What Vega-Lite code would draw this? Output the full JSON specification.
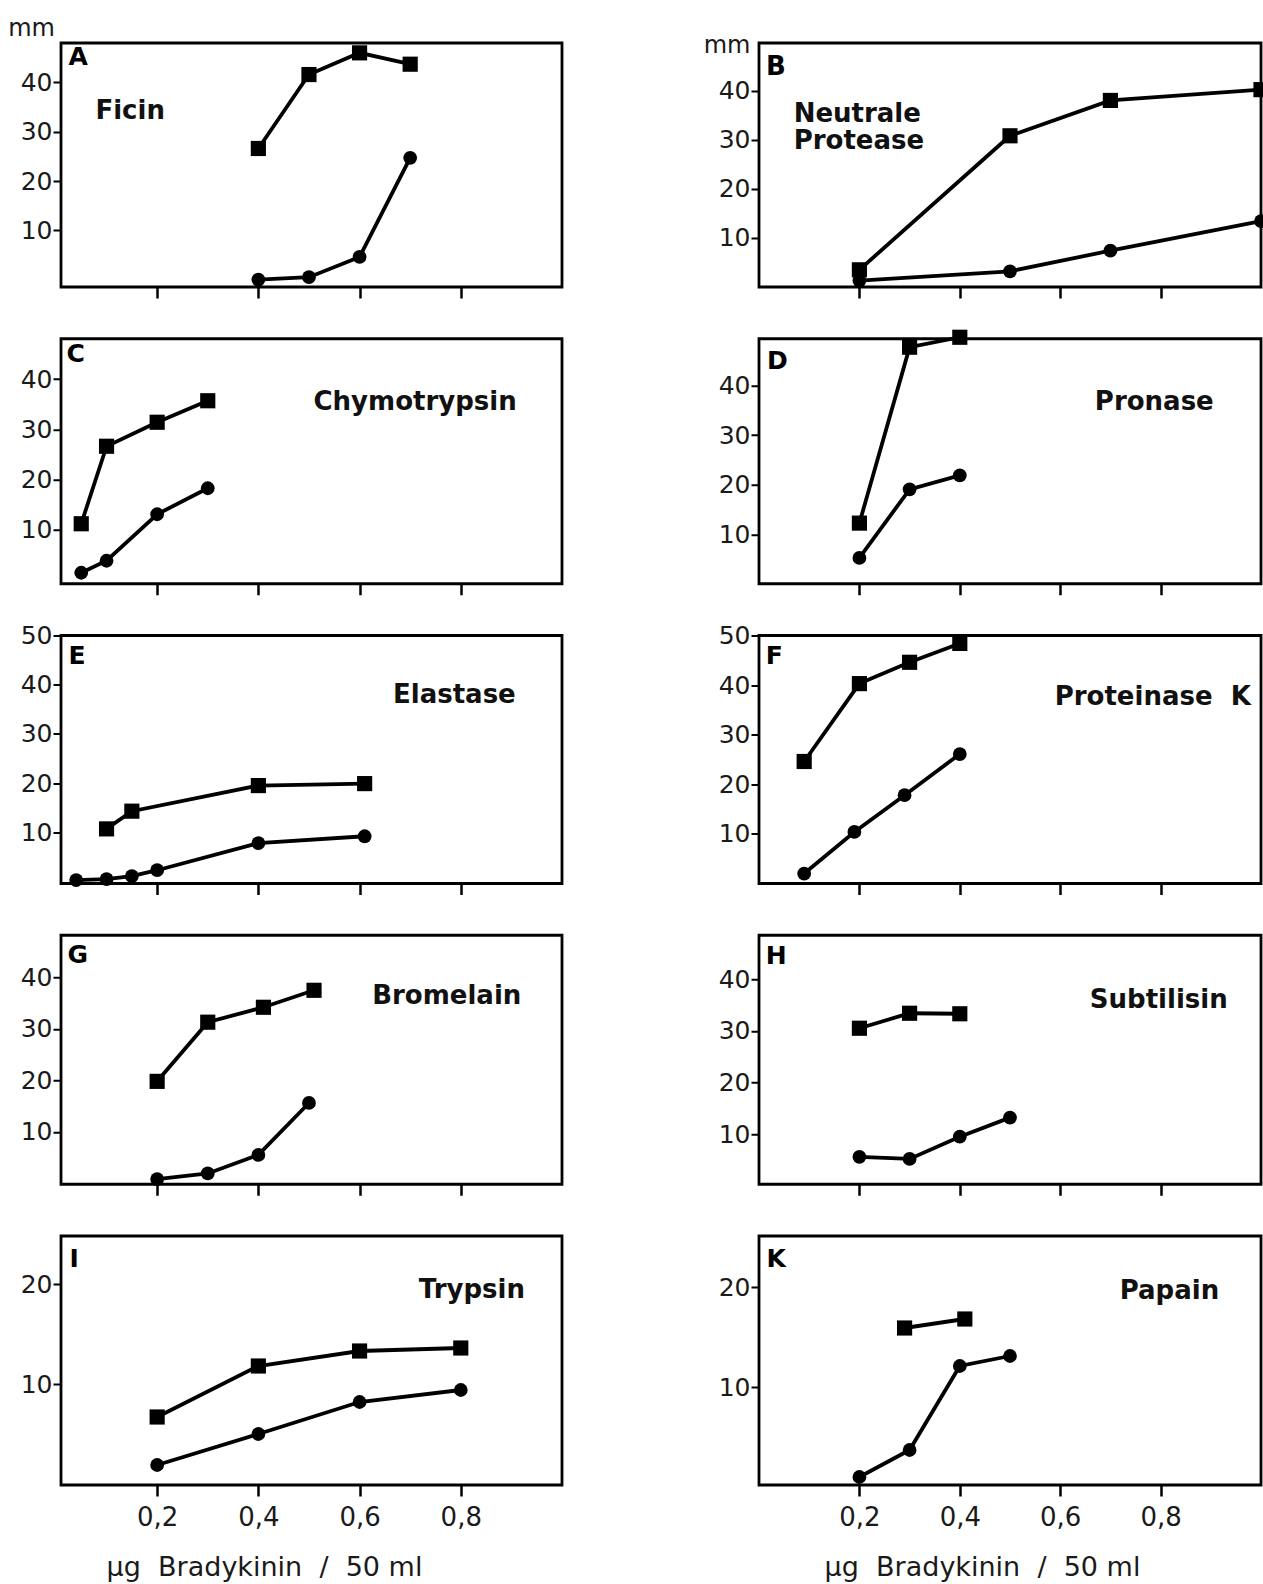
{
  "$schema": "https://vega.github.io/schema/vega-lite/v6.json",
  "background": "white",
  "padding": {"left": 6, "top": 14, "right": 2, "bottom": 2},
  "data": {"values": [
    {"panel":"A","series":"square","dose":0.4,"mm":26.6},{"panel":"A","series":"square","dose":0.5,"mm":41.6},{"panel":"A","series":"square","dose":0.6,"mm":46.0},{"panel":"A","series":"square","dose":0.7,"mm":43.7},
    {"panel":"A","series":"circle","dose":0.4,"mm":0.0},{"panel":"A","series":"circle","dose":0.5,"mm":0.5},{"panel":"A","series":"circle","dose":0.6,"mm":4.6},{"panel":"A","series":"circle","dose":0.7,"mm":24.7},
    {"panel":"B","series":"square","dose":0.2,"mm":3.5},{"panel":"B","series":"square","dose":0.5,"mm":30.8},{"panel":"B","series":"square","dose":0.7,"mm":38.0},{"panel":"B","series":"square","dose":1.0,"mm":40.2},
    {"panel":"B","series":"circle","dose":0.2,"mm":1.3},{"panel":"B","series":"circle","dose":0.5,"mm":3.2},{"panel":"B","series":"circle","dose":0.7,"mm":7.4},{"panel":"B","series":"circle","dose":1.0,"mm":13.4},
    {"panel":"C","series":"square","dose":0.05,"mm":11.1},{"panel":"C","series":"square","dose":0.1,"mm":26.6},{"panel":"C","series":"square","dose":0.2,"mm":31.4},{"panel":"C","series":"square","dose":0.3,"mm":35.7},
    {"panel":"C","series":"circle","dose":0.05,"mm":1.3},{"panel":"C","series":"circle","dose":0.1,"mm":3.7},{"panel":"C","series":"circle","dose":0.2,"mm":13.0},{"panel":"C","series":"circle","dose":0.3,"mm":18.2},
    {"panel":"D","series":"square","dose":0.2,"mm":12.3},{"panel":"D","series":"square","dose":0.3,"mm":47.7},{"panel":"D","series":"square","dose":0.4,"mm":49.7},
    {"panel":"D","series":"circle","dose":0.2,"mm":5.3},{"panel":"D","series":"circle","dose":0.3,"mm":19.1},{"panel":"D","series":"circle","dose":0.4,"mm":21.9},
    {"panel":"E","series":"square","dose":0.1,"mm":10.7},{"panel":"E","series":"square","dose":0.15,"mm":14.3},{"panel":"E","series":"square","dose":0.4,"mm":19.5},{"panel":"E","series":"square","dose":0.61,"mm":19.9},
    {"panel":"E","series":"circle","dose":0.04,"mm":0.3},{"panel":"E","series":"circle","dose":0.1,"mm":0.5},{"panel":"E","series":"circle","dose":0.15,"mm":1.1},{"panel":"E","series":"circle","dose":0.2,"mm":2.3},{"panel":"E","series":"circle","dose":0.4,"mm":7.8},{"panel":"E","series":"circle","dose":0.61,"mm":9.2},
    {"panel":"F","series":"square","dose":0.09,"mm":24.6},{"panel":"F","series":"square","dose":0.2,"mm":40.3},{"panel":"F","series":"square","dose":0.3,"mm":44.6},{"panel":"F","series":"square","dose":0.4,"mm":48.4},
    {"panel":"F","series":"circle","dose":0.09,"mm":2.0},{"panel":"F","series":"circle","dose":0.19,"mm":10.4},{"panel":"F","series":"circle","dose":0.29,"mm":17.8},{"panel":"F","series":"circle","dose":0.4,"mm":26.1},
    {"panel":"G","series":"square","dose":0.2,"mm":19.8},{"panel":"G","series":"square","dose":0.3,"mm":31.3},{"panel":"G","series":"square","dose":0.41,"mm":34.2},{"panel":"G","series":"square","dose":0.51,"mm":37.5},
    {"panel":"G","series":"circle","dose":0.2,"mm":0.8},{"panel":"G","series":"circle","dose":0.3,"mm":1.9},{"panel":"G","series":"circle","dose":0.4,"mm":5.5},{"panel":"G","series":"circle","dose":0.5,"mm":15.6},
    {"panel":"H","series":"square","dose":0.2,"mm":30.5},{"panel":"H","series":"square","dose":0.3,"mm":33.4},{"panel":"H","series":"square","dose":0.4,"mm":33.3},
    {"panel":"H","series":"circle","dose":0.2,"mm":5.6},{"panel":"H","series":"circle","dose":0.3,"mm":5.2},{"panel":"H","series":"circle","dose":0.4,"mm":9.5},{"panel":"H","series":"circle","dose":0.5,"mm":13.2},
    {"panel":"I","series":"square","dose":0.2,"mm":6.7},{"panel":"I","series":"square","dose":0.4,"mm":11.8},{"panel":"I","series":"square","dose":0.6,"mm":13.3},{"panel":"I","series":"square","dose":0.8,"mm":13.6},
    {"panel":"I","series":"circle","dose":0.2,"mm":1.9},{"panel":"I","series":"circle","dose":0.4,"mm":5.0},{"panel":"I","series":"circle","dose":0.6,"mm":8.2},{"panel":"I","series":"circle","dose":0.8,"mm":9.4},
    {"panel":"K","series":"square","dose":0.29,"mm":15.9},{"panel":"K","series":"square","dose":0.41,"mm":16.8},
    {"panel":"K","series":"circle","dose":0.2,"mm":1.0},{"panel":"K","series":"circle","dose":0.3,"mm":3.7},{"panel":"K","series":"circle","dose":0.4,"mm":12.1},{"panel":"K","series":"circle","dose":0.5,"mm":13.1}
  ]},
  "columns": 2,
  "align": "each",
  "bounds": "flush",
  "spacing": {"row": 51.75, "column": 197},
  "concat": [
    {
      "width": 501, "height": 244,
      "layer": [
        {"transform": [{"filter": "datum.panel === 'A'"}], "mark": {"type": "line", "color": "black", "strokeWidth": 3.8},
         "encoding": {"x": {"field": "dose", "type": "quantitative", "scale": {"domain": [0.01, 1.0], "nice": false, "zero": false}, "axis": {"values": [0.2, 0.4, 0.6, 0.8], "labels": false, "title": null}},
                      "y": {"field": "mm", "type": "quantitative", "scale": {"domain": [-1.5, 48], "nice": false, "zero": false}, "axis": {"values": [10, 20, 30, 40], "title": "mm", "titleX": -6.6, "titleY": -8}},
                      "detail": {"field": "series"}}},
        {"transform": [{"filter": "datum.panel === 'A' && datum.series === 'square'"}], "mark": {"type": "square", "color": "black", "size": 230, "opacity": 1},
         "encoding": {"x": {"field": "dose", "type": "quantitative", "scale": {"domain": [0.01, 1.0], "nice": false, "zero": false}, "axis": {"values": [0.2, 0.4, 0.6, 0.8], "labels": false, "title": null}},
                      "y": {"field": "mm", "type": "quantitative", "scale": {"domain": [-1.5, 48], "nice": false, "zero": false}, "axis": {"values": [10, 20, 30, 40], "title": "mm", "titleX": -6.6, "titleY": -8}}}},
        {"transform": [{"filter": "datum.panel === 'A' && datum.series === 'circle'"}], "mark": {"type": "circle", "color": "black", "size": 190, "opacity": 1},
         "encoding": {"x": {"field": "dose", "type": "quantitative", "scale": {"domain": [0.01, 1.0], "nice": false, "zero": false}, "axis": {"values": [0.2, 0.4, 0.6, 0.8], "labels": false, "title": null}},
                      "y": {"field": "mm", "type": "quantitative", "scale": {"domain": [-1.5, 48], "nice": false, "zero": false}, "axis": {"values": [10, 20, 30, 40], "title": "mm", "titleX": -6.6, "titleY": -8}}}},
        {"data": {"values": [{"t": "A"}]}, "mark": {"type": "text", "fontWeight": "bold", "fontSize": 25, "align": "left", "baseline": "alphabetic", "color": "black"},
         "encoding": {"text": {"field": "t"},
                      "x": {"datum": 0.0246, "type": "quantitative", "scale": {"domain": [0.01, 1.0], "nice": false, "zero": false}, "axis": {"values": [0.2, 0.4, 0.6, 0.8], "labels": false, "title": null}},
                      "y": {"datum": 43.5, "type": "quantitative", "scale": {"domain": [-1.5, 48], "nice": false, "zero": false}, "axis": {"values": [10, 20, 30, 40], "title": "mm", "titleX": -6.6, "titleY": -8}}}},
        {"data": {"values": [{"t": "Ficin"}]}, "mark": {"type": "text", "fontWeight": "bold", "fontSize": 26, "align": "left", "baseline": "alphabetic", "color": "#111"},
         "encoding": {"text": {"field": "t"},
                      "x": {"datum": 0.078, "type": "quantitative", "scale": {"domain": [0.01, 1.0], "nice": false, "zero": false}, "axis": {"values": [0.2, 0.4, 0.6, 0.8], "labels": false, "title": null}},
                      "y": {"datum": 32.6, "type": "quantitative", "scale": {"domain": [-1.5, 48], "nice": false, "zero": false}, "axis": {"values": [10, 20, 30, 40], "title": "mm", "titleX": -6.6, "titleY": -8}}}}
      ]
    },
    {
      "width": 502, "height": 244,
      "layer": [
        {"transform": [{"filter": "datum.panel === 'B'"}], "mark": {"type": "line", "color": "black", "strokeWidth": 3.8},
         "encoding": {"x": {"field": "dose", "type": "quantitative", "scale": {"domain": [0, 1.0], "nice": false, "zero": false}, "axis": {"values": [0.2, 0.4, 0.6, 0.8], "labels": false, "title": null}},
                      "y": {"field": "mm", "type": "quantitative", "scale": {"domain": [0, 49.7], "nice": false, "zero": false}, "axis": {"values": [10, 20, 30, 40], "title": "mm", "titleX": -9, "titleY": 9}},
                      "detail": {"field": "series"}}},
        {"transform": [{"filter": "datum.panel === 'B' && datum.series === 'square'"}], "mark": {"type": "square", "color": "black", "size": 230, "opacity": 1},
         "encoding": {"x": {"field": "dose", "type": "quantitative", "scale": {"domain": [0, 1.0], "nice": false, "zero": false}, "axis": {"values": [0.2, 0.4, 0.6, 0.8], "labels": false, "title": null}},
                      "y": {"field": "mm", "type": "quantitative", "scale": {"domain": [0, 49.7], "nice": false, "zero": false}, "axis": {"values": [10, 20, 30, 40], "title": "mm", "titleX": -9, "titleY": 9}}}},
        {"transform": [{"filter": "datum.panel === 'B' && datum.series === 'circle'"}], "mark": {"type": "circle", "color": "black", "size": 190, "opacity": 1},
         "encoding": {"x": {"field": "dose", "type": "quantitative", "scale": {"domain": [0, 1.0], "nice": false, "zero": false}, "axis": {"values": [0.2, 0.4, 0.6, 0.8], "labels": false, "title": null}},
                      "y": {"field": "mm", "type": "quantitative", "scale": {"domain": [0, 49.7], "nice": false, "zero": false}, "axis": {"values": [10, 20, 30, 40], "title": "mm", "titleX": -9, "titleY": 9}}}},
        {"data": {"values": [{"t": "B"}]}, "mark": {"type": "text", "fontWeight": "bold", "fontSize": 26, "align": "left", "baseline": "alphabetic", "color": "black"},
         "encoding": {"text": {"field": "t"},
                      "x": {"datum": 0.0139, "type": "quantitative", "scale": {"domain": [0, 1.0], "nice": false, "zero": false}, "axis": {"values": [0.2, 0.4, 0.6, 0.8], "labels": false, "title": null}},
                      "y": {"datum": 43.2, "type": "quantitative", "scale": {"domain": [0, 49.7], "nice": false, "zero": false}, "axis": {"values": [10, 20, 30, 40], "title": "mm", "titleX": -9, "titleY": 9}}}},
        {"data": {"values": [{"t": "Neutrale"}]}, "mark": {"type": "text", "fontWeight": "bold", "fontSize": 26, "align": "left", "baseline": "alphabetic", "color": "#111"},
         "encoding": {"text": {"field": "t"},
                      "x": {"datum": 0.069, "type": "quantitative", "scale": {"domain": [0, 1.0], "nice": false, "zero": false}, "axis": {"values": [0.2, 0.4, 0.6, 0.8], "labels": false, "title": null}},
                      "y": {"datum": 33.6, "type": "quantitative", "scale": {"domain": [0, 49.7], "nice": false, "zero": false}, "axis": {"values": [10, 20, 30, 40], "title": "mm", "titleX": -9, "titleY": 9}}}},
        {"data": {"values": [{"t": "Protease"}]}, "mark": {"type": "text", "fontWeight": "bold", "fontSize": 26, "align": "left", "baseline": "alphabetic", "color": "#111"},
         "encoding": {"text": {"field": "t"},
                      "x": {"datum": 0.069, "type": "quantitative", "scale": {"domain": [0, 1.0], "nice": false, "zero": false}, "axis": {"values": [0.2, 0.4, 0.6, 0.8], "labels": false, "title": null}},
                      "y": {"datum": 28.1, "type": "quantitative", "scale": {"domain": [0, 49.7], "nice": false, "zero": false}, "axis": {"values": [10, 20, 30, 40], "title": "mm", "titleX": -9, "titleY": 9}}}}
      ]
    },
    {
      "width": 501, "height": 245,
      "layer": [
        {"transform": [{"filter": "datum.panel === 'C'"}], "mark": {"type": "line", "color": "black", "strokeWidth": 3.8},
         "encoding": {"x": {"field": "dose", "type": "quantitative", "scale": {"domain": [0.01, 1.0], "nice": false, "zero": false}, "axis": {"values": [0.2, 0.4, 0.6, 0.8], "labels": false, "title": null}},
                      "y": {"field": "mm", "type": "quantitative", "scale": {"domain": [-0.9, 48.1], "nice": false, "zero": false}, "axis": {"values": [10, 20, 30, 40], "title": null}},
                      "detail": {"field": "series"}}},
        {"transform": [{"filter": "datum.panel === 'C' && datum.series === 'square'"}], "mark": {"type": "square", "color": "black", "size": 230, "opacity": 1},
         "encoding": {"x": {"field": "dose", "type": "quantitative", "scale": {"domain": [0.01, 1.0], "nice": false, "zero": false}, "axis": {"values": [0.2, 0.4, 0.6, 0.8], "labels": false, "title": null}},
                      "y": {"field": "mm", "type": "quantitative", "scale": {"domain": [-0.9, 48.1], "nice": false, "zero": false}, "axis": {"values": [10, 20, 30, 40], "title": null}}}},
        {"transform": [{"filter": "datum.panel === 'C' && datum.series === 'circle'"}], "mark": {"type": "circle", "color": "black", "size": 190, "opacity": 1},
         "encoding": {"x": {"field": "dose", "type": "quantitative", "scale": {"domain": [0.01, 1.0], "nice": false, "zero": false}, "axis": {"values": [0.2, 0.4, 0.6, 0.8], "labels": false, "title": null}},
                      "y": {"field": "mm", "type": "quantitative", "scale": {"domain": [-0.9, 48.1], "nice": false, "zero": false}, "axis": {"values": [10, 20, 30, 40], "title": null}}}},
        {"data": {"values": [{"t": "C"}]}, "mark": {"type": "text", "fontWeight": "bold", "fontSize": 25, "align": "left", "baseline": "alphabetic", "color": "black"},
         "encoding": {"text": {"field": "t"},
                      "x": {"datum": 0.0207, "type": "quantitative", "scale": {"domain": [0.01, 1.0], "nice": false, "zero": false}, "axis": {"values": [0.2, 0.4, 0.6, 0.8], "labels": false, "title": null}},
                      "y": {"datum": 43.4, "type": "quantitative", "scale": {"domain": [-0.9, 48.1], "nice": false, "zero": false}, "axis": {"values": [10, 20, 30, 40], "title": null}}}},
        {"data": {"values": [{"t": "Chymotrypsin"}]}, "mark": {"type": "text", "fontWeight": "bold", "fontSize": 26, "align": "left", "baseline": "alphabetic", "color": "#111"},
         "encoding": {"text": {"field": "t"},
                      "x": {"datum": 0.509, "type": "quantitative", "scale": {"domain": [0.01, 1.0], "nice": false, "zero": false}, "axis": {"values": [0.2, 0.4, 0.6, 0.8], "labels": false, "title": null}},
                      "y": {"datum": 33.9, "type": "quantitative", "scale": {"domain": [-0.9, 48.1], "nice": false, "zero": false}, "axis": {"values": [10, 20, 30, 40], "title": null}}}}
      ]
    },
    {
      "width": 502, "height": 245,
      "layer": [
        {"transform": [{"filter": "datum.panel === 'D'"}], "mark": {"type": "line", "color": "black", "strokeWidth": 3.8},
         "encoding": {"x": {"field": "dose", "type": "quantitative", "scale": {"domain": [0, 1.0], "nice": false, "zero": false}, "axis": {"values": [0.2, 0.4, 0.6, 0.8], "labels": false, "title": null}},
                      "y": {"field": "mm", "type": "quantitative", "scale": {"domain": [0.1, 49.4], "nice": false, "zero": false}, "axis": {"values": [10, 20, 30, 40], "title": null}},
                      "detail": {"field": "series"}}},
        {"transform": [{"filter": "datum.panel === 'D' && datum.series === 'square'"}], "mark": {"type": "square", "color": "black", "size": 230, "opacity": 1},
         "encoding": {"x": {"field": "dose", "type": "quantitative", "scale": {"domain": [0, 1.0], "nice": false, "zero": false}, "axis": {"values": [0.2, 0.4, 0.6, 0.8], "labels": false, "title": null}},
                      "y": {"field": "mm", "type": "quantitative", "scale": {"domain": [0.1, 49.4], "nice": false, "zero": false}, "axis": {"values": [10, 20, 30, 40], "title": null}}}},
        {"transform": [{"filter": "datum.panel === 'D' && datum.series === 'circle'"}], "mark": {"type": "circle", "color": "black", "size": 190, "opacity": 1},
         "encoding": {"x": {"field": "dose", "type": "quantitative", "scale": {"domain": [0, 1.0], "nice": false, "zero": false}, "axis": {"values": [0.2, 0.4, 0.6, 0.8], "labels": false, "title": null}},
                      "y": {"field": "mm", "type": "quantitative", "scale": {"domain": [0.1, 49.4], "nice": false, "zero": false}, "axis": {"values": [10, 20, 30, 40], "title": null}}}},
        {"data": {"values": [{"t": "D"}]}, "mark": {"type": "text", "fontWeight": "bold", "fontSize": 25, "align": "left", "baseline": "alphabetic", "color": "black"},
         "encoding": {"text": {"field": "t"},
                      "x": {"datum": 0.0159, "type": "quantitative", "scale": {"domain": [0, 1.0], "nice": false, "zero": false}, "axis": {"values": [0.2, 0.4, 0.6, 0.8], "labels": false, "title": null}},
                      "y": {"datum": 43.3, "type": "quantitative", "scale": {"domain": [0.1, 49.4], "nice": false, "zero": false}, "axis": {"values": [10, 20, 30, 40], "title": null}}}},
        {"data": {"values": [{"t": "Pronase"}]}, "mark": {"type": "text", "fontWeight": "bold", "fontSize": 26, "align": "left", "baseline": "alphabetic", "color": "#111"},
         "encoding": {"text": {"field": "t"},
                      "x": {"datum": 0.669, "type": "quantitative", "scale": {"domain": [0, 1.0], "nice": false, "zero": false}, "axis": {"values": [0.2, 0.4, 0.6, 0.8], "labels": false, "title": null}},
                      "y": {"datum": 35.05, "type": "quantitative", "scale": {"domain": [0.1, 49.4], "nice": false, "zero": false}, "axis": {"values": [10, 20, 30, 40], "title": null}}}}
      ]
    },
    {
      "width": 501, "height": 248,
      "layer": [
        {"transform": [{"filter": "datum.panel === 'E'"}], "mark": {"type": "line", "color": "black", "strokeWidth": 3.8},
         "encoding": {"x": {"field": "dose", "type": "quantitative", "scale": {"domain": [0.01, 1.0], "nice": false, "zero": false}, "axis": {"values": [0.2, 0.4, 0.6, 0.8], "labels": false, "title": null}},
                      "y": {"field": "mm", "type": "quantitative", "scale": {"domain": [-0.4, 50], "nice": false, "zero": false}, "axis": {"values": [10, 20, 30, 40, 50], "title": null}},
                      "detail": {"field": "series"}}},
        {"transform": [{"filter": "datum.panel === 'E' && datum.series === 'square'"}], "mark": {"type": "square", "color": "black", "size": 230, "opacity": 1},
         "encoding": {"x": {"field": "dose", "type": "quantitative", "scale": {"domain": [0.01, 1.0], "nice": false, "zero": false}, "axis": {"values": [0.2, 0.4, 0.6, 0.8], "labels": false, "title": null}},
                      "y": {"field": "mm", "type": "quantitative", "scale": {"domain": [-0.4, 50], "nice": false, "zero": false}, "axis": {"values": [10, 20, 30, 40, 50], "title": null}}}},
        {"transform": [{"filter": "datum.panel === 'E' && datum.series === 'circle'"}], "mark": {"type": "circle", "color": "black", "size": 190, "opacity": 1},
         "encoding": {"x": {"field": "dose", "type": "quantitative", "scale": {"domain": [0.01, 1.0], "nice": false, "zero": false}, "axis": {"values": [0.2, 0.4, 0.6, 0.8], "labels": false, "title": null}},
                      "y": {"field": "mm", "type": "quantitative", "scale": {"domain": [-0.4, 50], "nice": false, "zero": false}, "axis": {"values": [10, 20, 30, 40, 50], "title": null}}}},
        {"data": {"values": [{"t": "E"}]}, "mark": {"type": "text", "fontWeight": "bold", "fontSize": 25, "align": "left", "baseline": "alphabetic", "color": "black"},
         "encoding": {"text": {"field": "t"},
                      "x": {"datum": 0.0246, "type": "quantitative", "scale": {"domain": [0.01, 1.0], "nice": false, "zero": false}, "axis": {"values": [0.2, 0.4, 0.6, 0.8], "labels": false, "title": null}},
                      "y": {"datum": 44.3, "type": "quantitative", "scale": {"domain": [-0.4, 50], "nice": false, "zero": false}, "axis": {"values": [10, 20, 30, 40, 50], "title": null}}}},
        {"data": {"values": [{"t": "Elastase"}]}, "mark": {"type": "text", "fontWeight": "bold", "fontSize": 26, "align": "left", "baseline": "alphabetic", "color": "#111"},
         "encoding": {"text": {"field": "t"},
                      "x": {"datum": 0.666, "type": "quantitative", "scale": {"domain": [0.01, 1.0], "nice": false, "zero": false}, "axis": {"values": [0.2, 0.4, 0.6, 0.8], "labels": false, "title": null}},
                      "y": {"datum": 36.3, "type": "quantitative", "scale": {"domain": [-0.4, 50], "nice": false, "zero": false}, "axis": {"values": [10, 20, 30, 40, 50], "title": null}}}}
      ]
    },
    {
      "width": 502, "height": 248,
      "layer": [
        {"transform": [{"filter": "datum.panel === 'F'"}], "mark": {"type": "line", "color": "black", "strokeWidth": 3.8},
         "encoding": {"x": {"field": "dose", "type": "quantitative", "scale": {"domain": [0, 1.0], "nice": false, "zero": false}, "axis": {"values": [0.2, 0.4, 0.6, 0.8], "labels": false, "title": null}},
                      "y": {"field": "mm", "type": "quantitative", "scale": {"domain": [0, 50], "nice": false, "zero": false}, "axis": {"values": [10, 20, 30, 40, 50], "title": null}},
                      "detail": {"field": "series"}}},
        {"transform": [{"filter": "datum.panel === 'F' && datum.series === 'square'"}], "mark": {"type": "square", "color": "black", "size": 230, "opacity": 1},
         "encoding": {"x": {"field": "dose", "type": "quantitative", "scale": {"domain": [0, 1.0], "nice": false, "zero": false}, "axis": {"values": [0.2, 0.4, 0.6, 0.8], "labels": false, "title": null}},
                      "y": {"field": "mm", "type": "quantitative", "scale": {"domain": [0, 50], "nice": false, "zero": false}, "axis": {"values": [10, 20, 30, 40, 50], "title": null}}}},
        {"transform": [{"filter": "datum.panel === 'F' && datum.series === 'circle'"}], "mark": {"type": "circle", "color": "black", "size": 190, "opacity": 1},
         "encoding": {"x": {"field": "dose", "type": "quantitative", "scale": {"domain": [0, 1.0], "nice": false, "zero": false}, "axis": {"values": [0.2, 0.4, 0.6, 0.8], "labels": false, "title": null}},
                      "y": {"field": "mm", "type": "quantitative", "scale": {"domain": [0, 50], "nice": false, "zero": false}, "axis": {"values": [10, 20, 30, 40, 50], "title": null}}}},
        {"data": {"values": [{"t": "F"}]}, "mark": {"type": "text", "fontWeight": "bold", "fontSize": 25, "align": "left", "baseline": "alphabetic", "color": "black"},
         "encoding": {"text": {"field": "t"},
                      "x": {"datum": 0.0135, "type": "quantitative", "scale": {"domain": [0, 1.0], "nice": false, "zero": false}, "axis": {"values": [0.2, 0.4, 0.6, 0.8], "labels": false, "title": null}},
                      "y": {"datum": 44.2, "type": "quantitative", "scale": {"domain": [0, 50], "nice": false, "zero": false}, "axis": {"values": [10, 20, 30, 40, 50], "title": null}}}},
        {"data": {"values": [{"t": "Proteinase\u00a0\u00a0K"}]}, "mark": {"type": "text", "fontWeight": "bold", "fontSize": 26, "align": "left", "baseline": "alphabetic", "color": "#111"},
         "encoding": {"text": {"field": "t"},
                      "x": {"datum": 0.589, "type": "quantitative", "scale": {"domain": [0, 1.0], "nice": false, "zero": false}, "axis": {"values": [0.2, 0.4, 0.6, 0.8], "labels": false, "title": null}},
                      "y": {"datum": 35.95, "type": "quantitative", "scale": {"domain": [0, 50], "nice": false, "zero": false}, "axis": {"values": [10, 20, 30, 40, 50], "title": null}}}}
      ]
    },
    {
      "width": 501, "height": 249,
      "layer": [
        {"transform": [{"filter": "datum.panel === 'G'"}], "mark": {"type": "line", "color": "black", "strokeWidth": 3.8},
         "encoding": {"x": {"field": "dose", "type": "quantitative", "scale": {"domain": [0.01, 1.0], "nice": false, "zero": false}, "axis": {"values": [0.2, 0.4, 0.6, 0.8], "labels": false, "title": null}},
                      "y": {"field": "mm", "type": "quantitative", "scale": {"domain": [-0.2, 48.2], "nice": false, "zero": false}, "axis": {"values": [10, 20, 30, 40], "title": null}},
                      "detail": {"field": "series"}}},
        {"transform": [{"filter": "datum.panel === 'G' && datum.series === 'square'"}], "mark": {"type": "square", "color": "black", "size": 230, "opacity": 1},
         "encoding": {"x": {"field": "dose", "type": "quantitative", "scale": {"domain": [0.01, 1.0], "nice": false, "zero": false}, "axis": {"values": [0.2, 0.4, 0.6, 0.8], "labels": false, "title": null}},
                      "y": {"field": "mm", "type": "quantitative", "scale": {"domain": [-0.2, 48.2], "nice": false, "zero": false}, "axis": {"values": [10, 20, 30, 40], "title": null}}}},
        {"transform": [{"filter": "datum.panel === 'G' && datum.series === 'circle'"}], "mark": {"type": "circle", "color": "black", "size": 190, "opacity": 1},
         "encoding": {"x": {"field": "dose", "type": "quantitative", "scale": {"domain": [0.01, 1.0], "nice": false, "zero": false}, "axis": {"values": [0.2, 0.4, 0.6, 0.8], "labels": false, "title": null}},
                      "y": {"field": "mm", "type": "quantitative", "scale": {"domain": [-0.2, 48.2], "nice": false, "zero": false}, "axis": {"values": [10, 20, 30, 40], "title": null}}}},
        {"data": {"values": [{"t": "G"}]}, "mark": {"type": "text", "fontWeight": "bold", "fontSize": 25, "align": "left", "baseline": "alphabetic", "color": "black"},
         "encoding": {"text": {"field": "t"},
                      "x": {"datum": 0.0226, "type": "quantitative", "scale": {"domain": [0.01, 1.0], "nice": false, "zero": false}, "axis": {"values": [0.2, 0.4, 0.6, 0.8], "labels": false, "title": null}},
                      "y": {"datum": 42.8, "type": "quantitative", "scale": {"domain": [-0.2, 48.2], "nice": false, "zero": false}, "axis": {"values": [10, 20, 30, 40], "title": null}}}},
        {"data": {"values": [{"t": "Bromelain"}]}, "mark": {"type": "text", "fontWeight": "bold", "fontSize": 26, "align": "left", "baseline": "alphabetic", "color": "#111"},
         "encoding": {"text": {"field": "t"},
                      "x": {"datum": 0.625, "type": "quantitative", "scale": {"domain": [0.01, 1.0], "nice": false, "zero": false}, "axis": {"values": [0.2, 0.4, 0.6, 0.8], "labels": false, "title": null}},
                      "y": {"datum": 34.8, "type": "quantitative", "scale": {"domain": [-0.2, 48.2], "nice": false, "zero": false}, "axis": {"values": [10, 20, 30, 40], "title": null}}}}
      ]
    },
    {
      "width": 502, "height": 249,
      "layer": [
        {"transform": [{"filter": "datum.panel === 'H'"}], "mark": {"type": "line", "color": "black", "strokeWidth": 3.8},
         "encoding": {"x": {"field": "dose", "type": "quantitative", "scale": {"domain": [0, 1.0], "nice": false, "zero": false}, "axis": {"values": [0.2, 0.4, 0.6, 0.8], "labels": false, "title": null}},
                      "y": {"field": "mm", "type": "quantitative", "scale": {"domain": [0.3, 48.5], "nice": false, "zero": false}, "axis": {"values": [10, 20, 30, 40], "title": null}},
                      "detail": {"field": "series"}}},
        {"transform": [{"filter": "datum.panel === 'H' && datum.series === 'square'"}], "mark": {"type": "square", "color": "black", "size": 230, "opacity": 1},
         "encoding": {"x": {"field": "dose", "type": "quantitative", "scale": {"domain": [0, 1.0], "nice": false, "zero": false}, "axis": {"values": [0.2, 0.4, 0.6, 0.8], "labels": false, "title": null}},
                      "y": {"field": "mm", "type": "quantitative", "scale": {"domain": [0.3, 48.5], "nice": false, "zero": false}, "axis": {"values": [10, 20, 30, 40], "title": null}}}},
        {"transform": [{"filter": "datum.panel === 'H' && datum.series === 'circle'"}], "mark": {"type": "circle", "color": "black", "size": 190, "opacity": 1},
         "encoding": {"x": {"field": "dose", "type": "quantitative", "scale": {"domain": [0, 1.0], "nice": false, "zero": false}, "axis": {"values": [0.2, 0.4, 0.6, 0.8], "labels": false, "title": null}},
                      "y": {"field": "mm", "type": "quantitative", "scale": {"domain": [0.3, 48.5], "nice": false, "zero": false}, "axis": {"values": [10, 20, 30, 40], "title": null}}}},
        {"data": {"values": [{"t": "H"}]}, "mark": {"type": "text", "fontWeight": "bold", "fontSize": 25, "align": "left", "baseline": "alphabetic", "color": "black"},
         "encoding": {"text": {"field": "t"},
                      "x": {"datum": 0.0135, "type": "quantitative", "scale": {"domain": [0, 1.0], "nice": false, "zero": false}, "axis": {"values": [0.2, 0.4, 0.6, 0.8], "labels": false, "title": null}},
                      "y": {"datum": 42.9, "type": "quantitative", "scale": {"domain": [0.3, 48.5], "nice": false, "zero": false}, "axis": {"values": [10, 20, 30, 40], "title": null}}}},
        {"data": {"values": [{"t": "Subtilisin"}]}, "mark": {"type": "text", "fontWeight": "bold", "fontSize": 26, "align": "left", "baseline": "alphabetic", "color": "#111"},
         "encoding": {"text": {"field": "t"},
                      "x": {"datum": 0.659, "type": "quantitative", "scale": {"domain": [0, 1.0], "nice": false, "zero": false}, "axis": {"values": [0.2, 0.4, 0.6, 0.8], "labels": false, "title": null}},
                      "y": {"datum": 34.5, "type": "quantitative", "scale": {"domain": [0.3, 48.5], "nice": false, "zero": false}, "axis": {"values": [10, 20, 30, 40], "title": null}}}}
      ]
    },
    {
      "width": 501, "height": 249,
      "layer": [
        {"transform": [{"filter": "datum.panel === 'I'"}], "mark": {"type": "line", "color": "black", "strokeWidth": 3.8},
         "encoding": {"x": {"field": "dose", "type": "quantitative", "scale": {"domain": [0.01, 1.0], "nice": false, "zero": false}, "axis": {"values": [0.2, 0.4, 0.6, 0.8], "labels": true, "labelExpr": "replace(format(datum.value, '.1f'), '.', ',')", "title": "µg\u00a0 Bradykinin\u00a0 /\u00a0 50\u00a0ml", "titleX": 203, "titleY": 90, "titleAlign": "center", "titleBaseline": "alphabetic", "titleFontSize": 27}},
                      "y": {"field": "mm", "type": "quantitative", "scale": {"domain": [-0.1, 24.8], "nice": false, "zero": false}, "axis": {"values": [10, 20], "title": null}},
                      "detail": {"field": "series"}}},
        {"transform": [{"filter": "datum.panel === 'I' && datum.series === 'square'"}], "mark": {"type": "square", "color": "black", "size": 230, "opacity": 1},
         "encoding": {"x": {"field": "dose", "type": "quantitative", "scale": {"domain": [0.01, 1.0], "nice": false, "zero": false}, "axis": {"values": [0.2, 0.4, 0.6, 0.8], "labels": true, "labelExpr": "replace(format(datum.value, '.1f'), '.', ',')", "title": "µg\u00a0 Bradykinin\u00a0 /\u00a0 50\u00a0ml", "titleX": 203, "titleY": 90, "titleAlign": "center", "titleBaseline": "alphabetic", "titleFontSize": 27}},
                      "y": {"field": "mm", "type": "quantitative", "scale": {"domain": [-0.1, 24.8], "nice": false, "zero": false}, "axis": {"values": [10, 20], "title": null}}}},
        {"transform": [{"filter": "datum.panel === 'I' && datum.series === 'circle'"}], "mark": {"type": "circle", "color": "black", "size": 190, "opacity": 1},
         "encoding": {"x": {"field": "dose", "type": "quantitative", "scale": {"domain": [0.01, 1.0], "nice": false, "zero": false}, "axis": {"values": [0.2, 0.4, 0.6, 0.8], "labels": true, "labelExpr": "replace(format(datum.value, '.1f'), '.', ',')", "title": "µg\u00a0 Bradykinin\u00a0 /\u00a0 50\u00a0ml", "titleX": 203, "titleY": 90, "titleAlign": "center", "titleBaseline": "alphabetic", "titleFontSize": 27}},
                      "y": {"field": "mm", "type": "quantitative", "scale": {"domain": [-0.1, 24.8], "nice": false, "zero": false}, "axis": {"values": [10, 20], "title": null}}}},
        {"data": {"values": [{"t": "I"}]}, "mark": {"type": "text", "fontWeight": "bold", "fontSize": 25, "align": "left", "baseline": "alphabetic", "color": "black"},
         "encoding": {"text": {"field": "t"},
                      "x": {"datum": 0.0266, "type": "quantitative", "scale": {"domain": [0.01, 1.0], "nice": false, "zero": false}, "axis": {"values": [0.2, 0.4, 0.6, 0.8], "labels": true, "labelExpr": "replace(format(datum.value, '.1f'), '.', ',')", "title": "µg\u00a0 Bradykinin\u00a0 /\u00a0 50\u00a0ml", "titleX": 203, "titleY": 90, "titleAlign": "center", "titleBaseline": "alphabetic", "titleFontSize": 27}},
                      "y": {"datum": 21.7, "type": "quantitative", "scale": {"domain": [-0.1, 24.8], "nice": false, "zero": false}, "axis": {"values": [10, 20], "title": null}}}},
        {"data": {"values": [{"t": "Trypsin"}]}, "mark": {"type": "text", "fontWeight": "bold", "fontSize": 26, "align": "left", "baseline": "alphabetic", "color": "#111"},
         "encoding": {"text": {"field": "t"},
                      "x": {"datum": 0.717, "type": "quantitative", "scale": {"domain": [0.01, 1.0], "nice": false, "zero": false}, "axis": {"values": [0.2, 0.4, 0.6, 0.8], "labels": true, "labelExpr": "replace(format(datum.value, '.1f'), '.', ',')", "title": "µg\u00a0 Bradykinin\u00a0 /\u00a0 50\u00a0ml", "titleX": 203, "titleY": 90, "titleAlign": "center", "titleBaseline": "alphabetic", "titleFontSize": 27}},
                      "y": {"datum": 18.6, "type": "quantitative", "scale": {"domain": [-0.1, 24.8], "nice": false, "zero": false}, "axis": {"values": [10, 20], "title": null}}}}
      ]
    },
    {
      "width": 502, "height": 249,
      "layer": [
        {"transform": [{"filter": "datum.panel === 'K'"}], "mark": {"type": "line", "color": "black", "strokeWidth": 3.8},
         "encoding": {"x": {"field": "dose", "type": "quantitative", "scale": {"domain": [0, 1.0], "nice": false, "zero": false}, "axis": {"values": [0.2, 0.4, 0.6, 0.8], "labels": true, "labelExpr": "replace(format(datum.value, '.1f'), '.', ',')", "title": "µg\u00a0 Bradykinin\u00a0 /\u00a0 50\u00a0ml", "titleX": 223, "titleY": 90, "titleAlign": "center", "titleBaseline": "alphabetic", "titleFontSize": 27}},
                      "y": {"field": "mm", "type": "quantitative", "scale": {"domain": [0.2, 25.1], "nice": false, "zero": false}, "axis": {"values": [10, 20], "title": null}},
                      "detail": {"field": "series"}}},
        {"transform": [{"filter": "datum.panel === 'K' && datum.series === 'square'"}], "mark": {"type": "square", "color": "black", "size": 230, "opacity": 1},
         "encoding": {"x": {"field": "dose", "type": "quantitative", "scale": {"domain": [0, 1.0], "nice": false, "zero": false}, "axis": {"values": [0.2, 0.4, 0.6, 0.8], "labels": true, "labelExpr": "replace(format(datum.value, '.1f'), '.', ',')", "title": "µg\u00a0 Bradykinin\u00a0 /\u00a0 50\u00a0ml", "titleX": 223, "titleY": 90, "titleAlign": "center", "titleBaseline": "alphabetic", "titleFontSize": 27}},
                      "y": {"field": "mm", "type": "quantitative", "scale": {"domain": [0.2, 25.1], "nice": false, "zero": false}, "axis": {"values": [10, 20], "title": null}}}},
        {"transform": [{"filter": "datum.panel === 'K' && datum.series === 'circle'"}], "mark": {"type": "circle", "color": "black", "size": 190, "opacity": 1},
         "encoding": {"x": {"field": "dose", "type": "quantitative", "scale": {"domain": [0, 1.0], "nice": false, "zero": false}, "axis": {"values": [0.2, 0.4, 0.6, 0.8], "labels": true, "labelExpr": "replace(format(datum.value, '.1f'), '.', ',')", "title": "µg\u00a0 Bradykinin\u00a0 /\u00a0 50\u00a0ml", "titleX": 223, "titleY": 90, "titleAlign": "center", "titleBaseline": "alphabetic", "titleFontSize": 27}},
                      "y": {"field": "mm", "type": "quantitative", "scale": {"domain": [0.2, 25.1], "nice": false, "zero": false}, "axis": {"values": [10, 20], "title": null}}}},
        {"data": {"values": [{"t": "K"}]}, "mark": {"type": "text", "fontWeight": "bold", "fontSize": 25, "align": "left", "baseline": "alphabetic", "color": "black"},
         "encoding": {"text": {"field": "t"},
                      "x": {"datum": 0.0149, "type": "quantitative", "scale": {"domain": [0, 1.0], "nice": false, "zero": false}, "axis": {"values": [0.2, 0.4, 0.6, 0.8], "labels": true, "labelExpr": "replace(format(datum.value, '.1f'), '.', ',')", "title": "µg\u00a0 Bradykinin\u00a0 /\u00a0 50\u00a0ml", "titleX": 223, "titleY": 90, "titleAlign": "center", "titleBaseline": "alphabetic", "titleFontSize": 27}},
                      "y": {"datum": 22.0, "type": "quantitative", "scale": {"domain": [0.2, 25.1], "nice": false, "zero": false}, "axis": {"values": [10, 20], "title": null}}}},
        {"data": {"values": [{"t": "Papain"}]}, "mark": {"type": "text", "fontWeight": "bold", "fontSize": 26, "align": "left", "baseline": "alphabetic", "color": "#111"},
         "encoding": {"text": {"field": "t"},
                      "x": {"datum": 0.7185, "type": "quantitative", "scale": {"domain": [0, 1.0], "nice": false, "zero": false}, "axis": {"values": [0.2, 0.4, 0.6, 0.8], "labels": true, "labelExpr": "replace(format(datum.value, '.1f'), '.', ',')", "title": "µg\u00a0 Bradykinin\u00a0 /\u00a0 50\u00a0ml", "titleX": 223, "titleY": 90, "titleAlign": "center", "titleBaseline": "alphabetic", "titleFontSize": 27}},
                      "y": {"datum": 18.8, "type": "quantitative", "scale": {"domain": [0.2, 25.1], "nice": false, "zero": false}, "axis": {"values": [10, 20], "title": null}}}}
      ]
    }
  ],
  "config": {
    "font": "DejaVu Sans",
    "view": {"stroke": "black", "strokeWidth": 2.8},
    "axis": {"domain": false, "grid": false, "tickColor": "black", "labelColor": "#1a1a1a", "labelFont": "DejaVu Sans", "titleFont": "DejaVu Sans", "titleColor": "#1a1a1a", "titleFontWeight": "normal"},
    "axisY": {"tickSize": 8, "tickWidth": 2, "labelPadding": 1, "labelFontSize": 25, "titleAngle": 0, "titleAlign": "right", "titleBaseline": "alphabetic", "titleFontSize": 24},
    "axisX": {"tickSize": 11, "tickWidth": 2.5, "labelFontSize": 26, "labelPadding": 8},
    "text": {"font": "DejaVu Sans"}
  }
}
